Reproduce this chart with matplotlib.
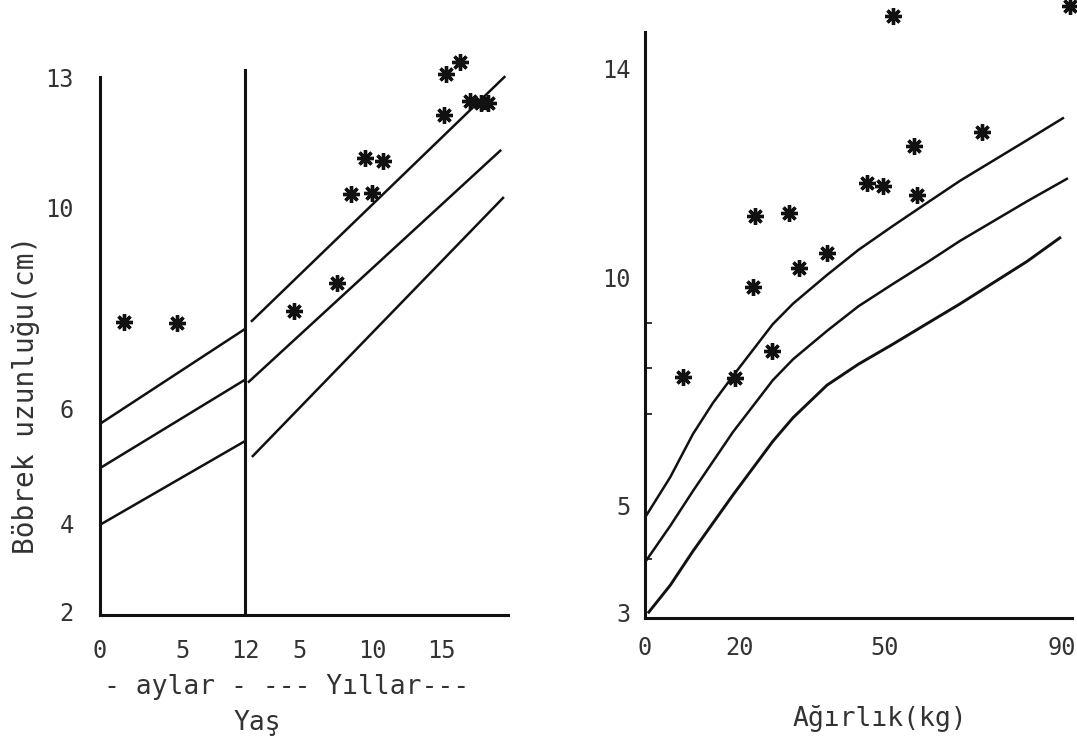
import numpy as np
import matplotlib
matplotlib.use('Agg')
import matplotlib.pyplot as plt

plt.rcParams['font.family'] = ['DejaVu Sans Mono', 'DejaVu Sans']

# --- left panel: kidney length vs age (cm) ---
# months part (0-12 months)
months_x = [0, 12]
months_upper = [5.74, 7.59]
months_mid = [4.97, 6.58]
months_low = [3.98, 5.44]
month_star_x = [1.45, 4.64]
month_star_y = [7.73, 7.71]

# years part
years_upper_x = [1.5, 19.6]
years_upper = [7.75, 13.02]
years_mid_x = [1.28, 19.3]
years_mid = [6.54, 11.32]
years_low_x = [1.57, 19.5]
years_low = [5.18, 10.23]
year_star_x = [4.56, 7.57, 8.54, 10.0, 9.51, 10.8, 15.36, 16.37, 15.22, 17.1, 17.9, 18.4]
year_star_y = [7.95, 8.51, 10.32, 10.35, 11.15, 11.08, 13.09, 13.37, 12.15, 12.47, 12.42, 12.42]

left_xticks = [0, 5 / 12, 1, 5, 10, 15]
left_xlabels = ['0', '5', '12', '5', '10', '15']
left_yticks = [2, 4, 6, 10, 13]

# --- right panel: kidney length vs weight ---
w_upper_x = [0.3, 5.3, 10.1, 14.3, 18.5, 26.8, 31.0, 38.0, 44.5, 51.8, 59.5, 66.9, 82.1, 90.2]
w_upper = [4.81, 5.61, 6.56, 7.24, 7.83, 8.97, 9.42, 10.04, 10.52, 10.98, 11.42, 11.84, 12.62, 13.04]
w_mid_x = [0.3, 5.3, 10.1, 18.5, 26.8, 31.0, 38.0, 44.5, 51.8, 59.5, 66.9, 82.1, 91.1]
w_mid = [3.97, 4.61, 5.31, 6.60, 7.74, 8.2, 8.82, 9.36, 9.85, 10.28, 10.69, 11.45, 11.88]
w_low_x = [0.8, 5.3, 10.1, 18.5, 26.8, 31.0, 38.0, 44.5, 51.8, 59.5, 66.9, 82.1, 89.5]
w_low = [3.0, 3.5, 4.14, 5.22, 6.40, 6.92, 7.63, 8.09, 8.53, 8.98, 9.41, 10.3, 10.75]
w_star_x = [8.0, 18.9, 22.7, 23.1, 26.6, 30.1, 32.2, 38.0, 46.3, 49.6, 51.8, 56.6, 57.3, 72.0, 91.9]
w_star_y = [7.81, 7.79, 9.78, 11.17, 8.38, 11.22, 10.17, 10.46, 11.80, 11.74, 15.0, 12.51, 11.57, 12.78, 15.19]

right_xticks = [0, 20, 50, 90]
right_yticks = [3, 5, 10, 14]
right_yminor = [4, 7, 8, 9]


def knot_scale(vals, pos):
    # piecewise linear axis, the hand drawn scales are not even
    vals = np.asarray(vals, float)
    pos = np.asarray(pos, float)

    def interp(v, a, b):
        v = np.asarray(v, float)
        out = np.interp(v, a, b)
        lo = (b[1] - b[0]) / (a[1] - a[0])
        hi = (b[-1] - b[-2]) / (a[-1] - a[-2])
        out = np.where(v < a[0], b[0] + (v - a[0]) * lo, out)
        out = np.where(v > a[-1], b[-1] + (v - a[-1]) * hi, out)
        return out

    return (lambda v: interp(v, vals, pos)), (lambda p: interp(p, pos, vals))


ink = '#111111'
txt = '#333333'
W, H = 1077, 741

fig = plt.figure(figsize=(10.77, 7.41), dpi=100)
ax1 = fig.add_axes([100 / W, (H - 615) / H, 408 / W, 538 / H])
ax2 = fig.add_axes([645 / W, (H - 618) / H, 427 / W, 586 / H])

ax1.set_xscale('function', functions=knot_scale(left_xticks, [100, 183, 245, 300, 372, 441]))
ax1.set_yscale('function', functions=knot_scale(left_yticks, [129, 217, 332, 533, 663]))
ax2.set_xscale('function', functions=knot_scale(right_xticks, [645, 740, 885, 1062]))
ax2.set_yscale('function', functions=knot_scale(right_yticks, [129, 236, 464, 673]))

star = dict(marker=(8, 2, 0), markersize=12, mew=2.4, color=ink, ls='none', clip_on=False)
lw = 1.8

# left
mx = np.array(months_x) / 12
ax1.plot(mx, months_upper, color=ink, lw=lw)
ax1.plot(mx, months_mid, color=ink, lw=lw)
ax1.plot(mx, months_low, color=ink, lw=lw)
ax1.plot(years_upper_x, years_upper, color=ink, lw=lw, clip_on=False)
ax1.plot(years_mid_x, years_mid, color=ink, lw=lw)
ax1.plot(years_low_x, years_low, color=ink, lw=lw)
ax1.plot(np.array(month_star_x) / 12, month_star_y, **star)
ax1.plot(year_star_x, year_star_y, **star)
ax1.axvline(1, 0, 1.013, color=ink, lw=2.2, clip_on=False)

ax1.set_xlim(0, 19.86)
ax1.set_ylim(1.93, 13.02)
ax1.set_xticks(left_xticks)
ax1.set_xticklabels(left_xlabels)
ax1.set_yticks(left_yticks)
ax1.set_yticklabels([str(v) for v in left_yticks])
ax1.minorticks_off()
ax1.tick_params(axis='x', length=0, pad=17, labelsize=17, labelcolor=txt)
ax1.tick_params(axis='y', length=0, pad=19, labelsize=17, labelcolor=txt)
ax1.text(-0.181, 0.41, 'Böbrek uzunluğu(cm)', transform=ax1.transAxes, rotation=90,
         ha='center', va='center', fontsize=20, color=txt)
ax1.text(0.458, -0.134, '- aylar - --- Yıllar---', transform=ax1.transAxes,
         ha='center', va='center', fontsize=19, color=txt)
ax1.text(0.385, -0.20, 'Yaş', transform=ax1.transAxes,
         ha='center', va='center', fontsize=19, color=txt)

# right
ax2.plot(w_upper_x, w_upper, color=ink, lw=lw)
ax2.plot(w_mid_x, w_mid, color=ink, lw=lw)
ax2.plot(w_low_x, w_low, color=ink, lw=2.1)
ax2.plot(w_star_x, w_star_y, **star)

ax2.set_xlim(0, 92.26)
ax2.set_ylim(2.89, 14.69)
ax2.set_xticks(right_xticks)
ax2.set_xticklabels([str(v) for v in right_xticks])
ax2.set_yticks(right_yticks)
ax2.set_yticklabels([str(v) for v in right_yticks])
ax2.set_yticks(right_yminor, minor=True)
ax2.tick_params(axis='x', which='both', length=0, pad=13, labelsize=17, labelcolor=txt)
ax2.tick_params(axis='y', which='major', length=0, pad=10, labelsize=17, labelcolor=txt)
ax2.tick_params(axis='y', which='minor', length=5, width=1.2, direction='in', color=ink)
ax2.text(0.55, -0.171, 'Ağırlık(kg)', transform=ax2.transAxes,
         ha='center', va='center', fontsize=19, color=txt)

for ax in (ax1, ax2):
    ax.set_facecolor('none')
    for side in ('top', 'right'):
        ax.spines[side].set_visible(False)
    for side in ('left', 'bottom'):
        ax.spines[side].set_linewidth(2.2)
        ax.spines[side].set_color(ink)

fig.savefig('out.png', dpi=100, facecolor='white')
